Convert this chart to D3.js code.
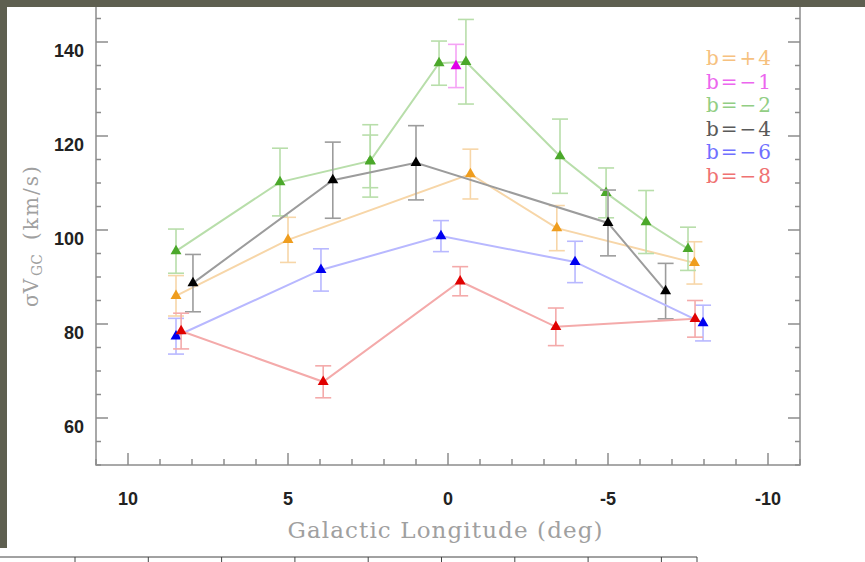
<!DOCTYPE html>
<html>
<head>
<meta charset="utf-8">
<script src="https://cdn.jsdelivr.net/npm/d3@7"></script>
<style>
  body { margin: 0; background: #fff; }
  svg { display: block; }
</style>
</head>
<body>
<svg id="chart" width="865" height="562"></svg>
<script>
// Velocity dispersion of bulge stars vs Galactic longitude, one series per latitude strip.
// Longitude (deg), dispersion (km/s) and 1-sigma error (km/s).
const lonB4  = [8.5, 5.0, -0.7, -3.4, -7.7];
const valB4  = [86.0, 97.9, 111.9, 100.4, 93.0];
const errB4  = [4.3, 4.8, 5.3, 4.8, 4.5];

const lonM1  = [-0.25];
const valM1  = [134.9];
const errM1  = [4.6];

const lonM2  = [8.5, 5.25, 2.43, 0.28, -0.56, -3.5, -4.94, -6.19, -7.5];
const valM2  = [95.5, 110.2, 114.7, 135.5, 135.8, 115.7, 107.9, 101.7, 96.0];
const errM2  = [4.7, 7.2, 7.7, 4.7, 9.0, 7.9, 5.3, 6.7, 4.6];
// second measurement of the b=-2 field at l=2.4
const lonM2b = [2.43];
const valM2b = [114.6];
const errM2b = [5.6];

const lonM4  = [7.97, 3.6, 1.0, -5.0, -6.8];
const valM4  = [88.7, 110.6, 114.3, 101.5, 87.0];
const errM4  = [6.1, 8.1, 7.9, 7.0, 5.9];

const lonM6  = [8.5, 3.97, 0.22, -3.97, -7.97];
const valM6  = [77.4, 91.5, 98.7, 93.2, 80.2];
const errM6  = [3.8, 4.5, 3.3, 4.4, 3.8];

const lonM8  = [8.34, 3.9, -0.38, -3.37, -7.72];
const valM8  = [78.5, 67.7, 89.1, 79.4, 81.1];
const errM8  = [3.8, 3.4, 3.1, 4.0, 3.9];

const legendLabels = ["b=+4", "b=\u22121", "b=\u22122", "b=\u22124", "b=\u22126", "b=\u22128"];
const xMajorTicks = [10, 5, 0, -5, -10];
const xTickLabels = ["10", "5", "0", "-5", "-10"];
const yMajorTicks = [60, 80, 100, 120, 140];
const yTickLabels = ["60", "80", "100", "120", "140"];

const zip = (l, v, e) => l.map((d, i) => ({ l: d, v: v[i], e: e[i] }));

const series = [
  { pts: zip(lonB4, valB4, errB4), line: "#f7d6a8", mark: "#ef9d1e", drawLine: true },
  { pts: zip(lonM2, valM2, errM2), line: "#b8deaa", mark: "#4ba82a", drawLine: true },
  { pts: zip(lonM2b, valM2b, errM2b), line: "#b8deaa", mark: "#4ba82a", drawLine: false },
  { pts: zip(lonM4, valM4, errM4), line: "#9c9c9c", mark: "#000000", drawLine: true },
  { pts: zip(lonM6, valM6, errM6), line: "#b8b8ff", mark: "#0000f0", drawLine: true },
  { pts: zip(lonM8, valM8, errM8), line: "#f4aaaa", mark: "#e00000", drawLine: true },
  { pts: zip(lonM1, valM1, errM1), line: "#f5a3f5", mark: "#e000e8", drawLine: false }
];
const legendColors = ["#f6c180", "#ec66ee", "#92ce84", "#5a5a5a", "#7070ff", "#ef7272"];

const svg = d3.select("#chart");
const x = d3.scaleLinear().domain([11, -11]).range([96, 800]);
const y = d3.scaleLinear().domain([50, 150]).range([465, -5]);

const axisColor = "#8c8c8c";
const frame = svg.append("g");

frame.append("rect")
  .attr("x", x(11)).attr("y", y(150))
  .attr("width", x(-11) - x(11)).attr("height", y(50) - y(150))
  .attr("fill", "none").attr("stroke", axisColor).attr("stroke-width", 1.5);

// inward ticks on all four sides
const xMinor = d3.range(-11, 12, 1);
const yMinor = d3.range(50, 151, 5);
function drawXTicks(y0, dir) {
  frame.selectAll(null).data(xMinor).join("line")
    .attr("x1", d => x(d)).attr("x2", d => x(d))
    .attr("y1", y0).attr("y2", d => y0 + dir * (xMajorTicks.includes(d) ? 12 : 6))
    .attr("stroke", axisColor).attr("stroke-width", 1.5);
}
function drawYTicks(x0, dir) {
  frame.selectAll(null).data(yMinor).join("line")
    .attr("y1", d => y(d)).attr("y2", d => y(d))
    .attr("x1", x0).attr("x2", d => x0 + dir * (d % 20 === 0 ? 12 : 5))
    .attr("stroke", axisColor).attr("stroke-width", 1.5);
}
drawXTicks(y(50), -1);
drawXTicks(y(150), 1);
drawYTicks(x(11), 1);
drawYTicks(x(-11), -1);

const tickFont = "'Liberation Sans', Arial, sans-serif";
frame.selectAll(null).data(xMajorTicks).join("text")
  .attr("x", d => x(d)).attr("y", y(50) + 40)
  .attr("text-anchor", "middle")
  .attr("font-family", tickFont).attr("font-weight", "bold").attr("font-size", 18)
  .attr("fill", "#222")
  .text((d, i) => xTickLabels[i]);

frame.selectAll(null).data(yMajorTicks).join("text")
  .attr("x", x(11) - 12).attr("y", d => y(d) + 15)
  .attr("text-anchor", "end")
  .attr("font-family", tickFont).attr("font-weight", "bold").attr("font-size", 18)
  .attr("fill", "#222")
  .text((d, i) => yTickLabels[i]);

// axis titles
frame.append("text")
  .attr("x", 445).attr("y", 538)
  .attr("text-anchor", "middle")
  .attr("font-family", "'DejaVu Serif', serif").attr("font-size", 23)
  .attr("textLength", 315).attr("lengthAdjust", "spacing")
  .attr("fill", "#a0a0a0")
  .text("Galactic Longitude (deg)");

const yTitle = frame.append("text")
  .attr("transform", "translate(38,307) rotate(-90)")
  .attr("text-anchor", "start")
  .attr("font-family", "'DejaVu Serif', serif").attr("font-size", 20)
  .attr("fill", "#a0a0a0");
yTitle.append("tspan").text("\u03c3V");
yTitle.append("tspan").attr("dx", 3).attr("dy", 4).attr("font-size", 14).text("GC");
yTitle.append("tspan").attr("dx", 14).attr("dy", -4).attr("letter-spacing", 2).text("(km/s)");

// data: lines, error bars, markers
const plot = svg.append("g");
const line = d3.line().x(d => x(d.l)).y(d => y(d.v));
const tri = d3.symbol().type(d3.symbolTriangle).size(52);

series.forEach(s => {
  const g = plot.append("g");
  if (s.drawLine) {
    g.append("path").datum(s.pts).attr("d", line)
      .attr("fill", "none").attr("stroke", s.line).attr("stroke-width", 2);
  }
  const eb = g.selectAll(null).data(s.pts).join("g")
    .attr("stroke", s.line).attr("stroke-width", 1.6);
  eb.append("line")
    .attr("x1", d => x(d.l)).attr("x2", d => x(d.l))
    .attr("y1", d => y(d.v - d.e)).attr("y2", d => y(d.v + d.e));
  eb.append("line")
    .attr("x1", d => x(d.l) - 8).attr("x2", d => x(d.l) + 8)
    .attr("y1", d => y(d.v + d.e)).attr("y2", d => y(d.v + d.e));
  eb.append("line")
    .attr("x1", d => x(d.l) - 8).attr("x2", d => x(d.l) + 8)
    .attr("y1", d => y(d.v - d.e)).attr("y2", d => y(d.v - d.e));
  g.selectAll(null).data(s.pts).join("path")
    .attr("d", tri)
    .attr("transform", d => `translate(${x(d.l)},${y(d.v)})`)
    .attr("fill", s.mark);
});

// legend
svg.append("g").selectAll("text").data(legendLabels).join("text")
  .attr("x", 706).attr("y", (d, i) => 65 + i * 23.5)
  .attr("font-family", "'DejaVu Serif', serif").attr("font-size", 20)
  .attr("letter-spacing", 2)
  .attr("fill", (d, i) => legendColors[i])
  .text(d => d);

// surrounding page: dark border strips and a table rule below
svg.append("rect").attr("x", 0).attr("y", 0).attr("width", 865).attr("height", 7).attr("fill", "#5e5f50");
svg.append("rect").attr("x", 0).attr("y", 0).attr("width", 7).attr("height", 548).attr("fill", "#5e5f50");
const rule = svg.append("g").attr("stroke", "#444").attr("stroke-width", 1);
rule.append("line").attr("x1", 0).attr("x2", 697).attr("y1", 557).attr("y2", 557);
const ruleTicks = d3.range(9).map(i => 75 + i * 73.3).concat([697]);
rule.selectAll(null).data(ruleTicks).join("line")
  .attr("x1", d => d).attr("x2", d => d).attr("y1", 557).attr("y2", 562);
</script>
</body>
</html>
